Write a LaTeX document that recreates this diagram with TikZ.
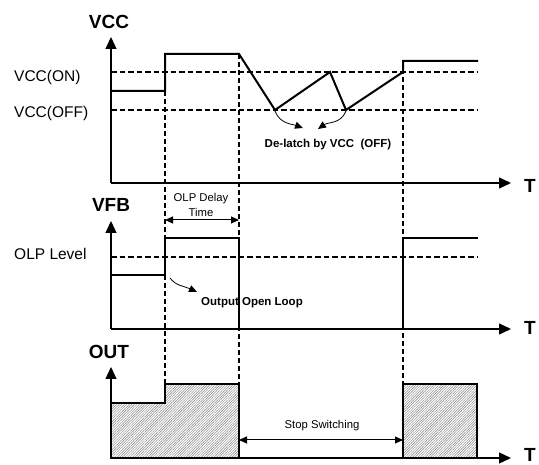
\documentclass[tikz,border=0pt]{standalone}
\usepackage{fontspec}
\setmainfont{Liberation Sans}
\usetikzlibrary{arrows.meta,positioning,patterns.meta}

\begin{document}
\begin{tikzpicture}[x=1pt,y=-1pt,
  axis/.style={line width=1.3pt,-{Triangle[length=12pt,width=11pt]}},
  wave/.style={line width=2pt,line join=miter},
  lvl/.style={line width=2pt,dash pattern=on 5.5pt off 3pt},
  guide/.style={line width=2pt,dash pattern=on 5pt off 3pt},
  axlbl/.style={font=\fontsize{19}{21}\selectfont\bfseries,inner sep=0pt,anchor=base},
  lvllbl/.style={font=\fontsize{15.5}{17}\selectfont,inner sep=0pt,anchor=base west},
  note/.style={font=\fontsize{11.5}{13}\selectfont\bfseries,inner sep=0pt},
  dim/.style={font=\fontsize{11.3}{14.5}\selectfont,inner sep=0pt,align=center},
  curv/.style={line width=0.8pt,-{Triangle[length=8pt,width=7pt]}},
  span/.style={line width=1pt,{Triangle[length=8pt,width=7pt]}-{Triangle[length=8pt,width=7pt]}},
  hatch/.style={wave,pattern={Lines[angle=45,distance=1.8pt,line width=0.45pt]},pattern color=black!50}
]
\useasboundingbox (0,0) rectangle (539,465);

% axes
\coordinate (o1) at (111,183); \coordinate (y1) at (111,37);  \coordinate (e1) at (511,183);
\coordinate (o2) at (111,329); \coordinate (y2) at (111,221); \coordinate (e2) at (511,329);
\coordinate (o3) at (111,458); \coordinate (y3) at (111,367); \coordinate (e3) at (511,458);
\draw[axis] (o1) -- (y1);
\draw[axis] (o1) -- (e1);
\draw[axis] (o2) -- (y2);
\draw[axis] (o2) -- (e2);
\draw[axis] (o3) -- (y3);
\draw[axis] (o3) -- (e3);
\node[axlbl] (vcc) at (109,29) {VCC};
\node[axlbl] (vfb) at (111,212) {VFB};
\node[axlbl] (out) at (109,359) {OUT};
\node[axlbl] (t1) at (530,193) {T};
\node[axlbl] (t2) at (530,335) {T};
\node[axlbl] (t3) at (530,462) {T};

% levels
\draw[lvl] (111,72) -- (477,72);
\draw[lvl] (111,110) -- (477,110);
\draw[lvl] (111,257) -- (477,257);
\node[lvllbl] (von)  at (14,82)  {VCC(ON)};
\node[lvllbl] (voff) at (14,118) {VCC(OFF)};
\node[lvllbl] (olp)  at (14,260) {OLP Level};

% guides
\draw[guide] (165,91) -- (165,384);
\draw[guide] (239,54) -- (239,384);
\draw[guide] (403,61) -- (403,384);

% VCC
\draw[wave] (111,91) -- (165,91) -- (165,54) -- (239,54) -- (275,110)
  -- (330,72) -- (346,110) -- (403,72) -- (403,61) -- (478,61);
\coordinate (d1) at (275,111);
\coordinate (d2) at (346,111);
\node[note] (delatch) at (328,145) {De-latch by VCC~~(OFF)};
\draw[curv] (d1) .. controls (280,124) and (292,124) .. (303,128);
\draw[curv] (d2) .. controls (341,124) and (328,122) .. (318,129);

% VFB
\draw[wave] (111,275) -- (165,275) -- (165,238) -- (239,238) -- (239,329);
\draw[wave] (403,329) -- (403,238) -- (478,238);
\coordinate (dt1) at (165,220);
\coordinate (dt2) at (239,220);
\draw[span] (dt1) -- (dt2);
\node[dim] (delay) at (201,205) {OLP Delay\\Time};
\coordinate (ol) at (170,278);
\node[note] (openloop) at (252,303) {Output Open Loop};
\draw[curv] (ol) .. controls (176,286) and (184,286) .. (197,292);

% OUT
\draw[hatch] (111,458) -- (111,403) -- (165,403) -- (165,384) -- (239,384) -- (239,458) -- cycle;
\draw[hatch] (403,458) -- (403,384) -- (477,384) -- (477,458) -- cycle;
\coordinate (ss1) at (239,440);
\coordinate (ss2) at (403,440);
\draw[span] (ss1) -- (ss2);
\node[dim] (stop) at (322,426) {Stop Switching};
\end{tikzpicture}
\end{document}
